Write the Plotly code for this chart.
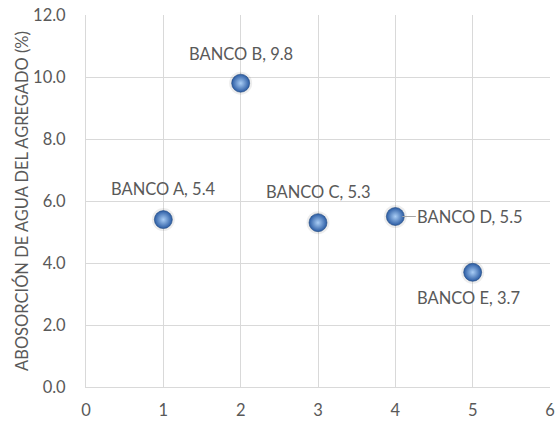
import plotly.graph_objects as go

# Absorción de agua por banco de agregado
bancos = ["BANCO A", "BANCO B", "BANCO C", "BANCO D", "BANCO E"]
x_vals = [1, 2, 3, 4, 5]
absorcion = [5.4, 9.8, 5.3, 5.5, 3.7]

# label placement (pixel offsets) per point
label_style = [
    dict(xshift=0, yshift=31, arrow=False),
    dict(xshift=0, yshift=29, arrow=False),
    dict(xshift=0, yshift=31, arrow=False),
    dict(ax=75, ay=0, arrow=True),
    dict(xshift=-4, yshift=-26, arrow=False),
]

grey = "#595959"
font_family = "Lato, Open Sans, sans-serif"
fsize = 16.5

fig = go.Figure()

# soft shadow under each sphere
fig.add_trace(go.Scatter(
    x=x_vals, y=absorcion, mode="markers",
    marker=dict(size=23, color="rgba(0,0,0,0.07)", line=dict(width=0)),
    hoverinfo="skip", showlegend=False,
))
# sphere markers
fig.add_trace(go.Scatter(
    x=x_vals, y=absorcion, mode="markers",
    marker=dict(size=18, color="#2a5ba3",
                gradient=dict(type="radial", color="#a9cdf5"),
                line=dict(width=0.6, color="#22497f")),
    showlegend=False,
))

annotations = []
for name, xv, yv, st in zip(bancos, x_vals, absorcion, label_style):
    text = f"{name}, {yv:.1f}"
    if st["arrow"]:
        annotations.append(dict(
            x=xv, y=yv, xref="x", yref="y", text=text,
            showarrow=True, arrowhead=0, arrowwidth=1, arrowcolor="#a6a6a6",
            ax=st["ax"], ay=st["ay"], standoff=7,
            font=dict(size=fsize, color=grey, family=font_family),
        ))
    else:
        annotations.append(dict(
            x=xv, y=yv, xref="x", yref="y", text=text, showarrow=False,
            xshift=st["xshift"], yshift=st["yshift"],
            font=dict(size=fsize, color=grey, family=font_family),
        ))

fig.update_layout(
    width=559, height=421,
    margin=dict(l=86, r=9, t=15, b=34),
    paper_bgcolor="white", plot_bgcolor="white",
    font=dict(family=font_family, color=grey, size=fsize),
    annotations=annotations,
    xaxis=dict(range=[0, 6], dtick=1, tick0=0, showgrid=True, automargin=False,
               gridcolor="#d9d9d9", gridwidth=1, zeroline=False,
               showline=True, linecolor="#d9d9d9", linewidth=1, mirror=False,
               ticks="", tickfont=dict(size=fsize, color=grey), ticklabelstandoff=8),
    yaxis=dict(range=[0, 12], dtick=2, tick0=0, tickformat=".1f", automargin=False,
               showgrid=True, gridcolor="#d9d9d9", gridwidth=1, zeroline=False,
               showline=True, linecolor="#d9d9d9", linewidth=1,
               ticks="", tickfont=dict(size=fsize, color=grey), ticklabelstandoff=16,
               title=dict(text="ABOSORCIÓN DE AGUA DEL AGREGADO (%)",
                          font=dict(size=fsize, color=grey), standoff=0)),
)

fig.write_html("out.html")
